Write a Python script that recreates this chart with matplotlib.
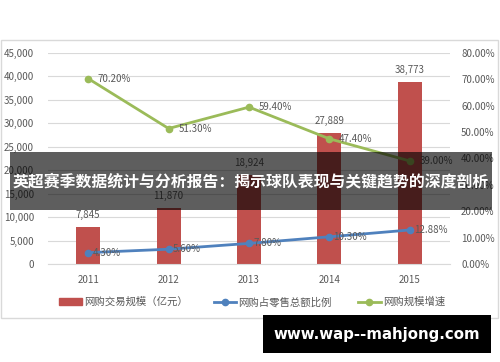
import matplotlib.pyplot as plt
from matplotlib.patches import Rectangle
from matplotlib.lines import Line2D

plt.rcParams['font.family'] = ['Noto Sans CJK SC', 'DejaVu Sans']

# data
years = ['2011', '2012', '2013', '2014', '2015']
volume = [7845, 11870, 18924, 27889, 38773]            # 网购交易规模（亿元）
retail_share = [4.30, 5.60, 7.80, 10.30, 12.88]        # 网购占零售总额比例 (%)
growth = [70.20, 51.30, 59.40, 47.40, 39.00]           # 网购规模增速 (%)
left_ticks = [0, 5000, 10000, 15000, 20000, 25000, 30000, 35000, 40000, 45000]
right_ticks = [0, 10, 20, 30, 40, 50, 60, 70, 80]

title = '英超赛季数据统计与分析报告：揭示球队表现与关键趋势的深度剖析'
watermark = 'www.wap--mahjong.com'

RED = '#c0504d'
BLUE = '#4f81bd'
GREEN = '#9bbb59'
TXT = '#595959'

W, H = 500, 362
fig = plt.figure(figsize=(W / 100, H / 100), dpi=100)

def fx(px):
    return px / W

def fy(py):
    return 1 - py / H

ax = fig.add_axes([fx(48), fy(264), fx(450) - fx(48), fy(52.7) - fy(264)])
ax2 = ax.twinx()

x = list(range(len(years)))
ax.bar(x, volume, width=0.3, color=RED, zorder=2)
ax.set_ylim(0, 45000)
ax.set_xlim(-0.5, 4.5)
ax.set_yticks(left_ticks)
ax.set_yticklabels([f'{v:,}' for v in left_ticks])
ax.set_xticks(x)
ax.set_xticklabels(years)
ax.grid(axis='y', color='#d9d9d9', linewidth=0.8, zorder=0)
ax.set_axisbelow(True)
for s in ['left', 'right', 'top']:
    ax.spines[s].set_visible(False)
ax.spines['bottom'].set_color('#d9d9d9')
ax.tick_params(axis='both', length=0, labelsize=7, colors=TXT)
ax.tick_params(axis='y', pad=10)
ax.tick_params(axis='x', pad=8)

for xi, v in zip(x, volume):
    ax.annotate(f'{v:,}', (xi, v), xytext=(0, 5), textcoords='offset points',
                ha='center', va='bottom', fontsize=7, color=TXT)

ax2.set_ylim(0, 80)
ax2.set_yticks(right_ticks)
ax2.set_yticklabels([f'{v:.2f}%' for v in right_ticks])
for s in ['left', 'right', 'top', 'bottom']:
    ax2.spines[s].set_visible(False)
ax2.tick_params(axis='y', length=0, labelsize=7, colors=TXT, pad=8)

ax2.plot(x, retail_share, color=BLUE, linewidth=2, marker='o', markersize=4.5, zorder=3)
ax2.plot(x, growth, color=GREEN, linewidth=2, marker='o', markersize=4.5, zorder=3)
for xi, v in zip(x, retail_share):
    ax2.annotate(f'{v:.2f}%', (xi, v), xytext=(3, 0), textcoords='offset points',
                 ha='left', va='center', fontsize=7, color=TXT)
for xi, v in zip(x, growth):
    ax2.annotate(f'{v:.2f}%', (xi, v), xytext=(7, 0), textcoords='offset points',
                 ha='left', va='center', fontsize=7, color=TXT)

handles = [
    Rectangle((0, 0), 1, 1, color=RED),
    Line2D([], [], color=BLUE, linewidth=2, marker='o', markersize=4.5),
    Line2D([], [], color=GREEN, linewidth=2, marker='o', markersize=4.5),
]
labels = ['网购交易规模（亿元）', '网购占零售总额比例', '网购规模增速']
fig.legend(handles, labels, loc='center', bbox_to_anchor=(fx(252), fy(302)), ncol=3,
           frameon=False, fontsize=7.5, labelcolor=TXT, handlelength=2.2,
           handletextpad=0.2, columnspacing=2.5)

# chart border
fig.patches.append(Rectangle((fx(1), fy(318)), fx(498) - fx(1), fy(40) - fy(318),
                             transform=fig.transFigure, fill=False,
                             edgecolor='#d9d9d9', linewidth=1, zorder=1))

# dark overlay band with title
fig.patches.append(Rectangle((fx(10), fy(210)), fx(492) - fx(10), fy(152) - fy(210),
                             transform=fig.transFigure, facecolor='black',
                             alpha=0.63, edgecolor='none', zorder=10))
fig.text(fx(251), fy(181), title, ha='center', va='center', color='white',
         fontsize=11.4, fontweight='bold', zorder=11)

# watermark box
fig.patches.append(Rectangle((fx(263), fy(353)), fx(491) - fx(263), fy(315) - fy(353),
                             transform=fig.transFigure, facecolor='black',
                             edgecolor='none', zorder=10))
fig.text(fx(377), fy(334), watermark, ha='center', va='center', color='white',
         fontsize=10.8, fontweight='bold', family='DejaVu Sans', zorder=11)

fig.savefig('out.png', dpi=100)
